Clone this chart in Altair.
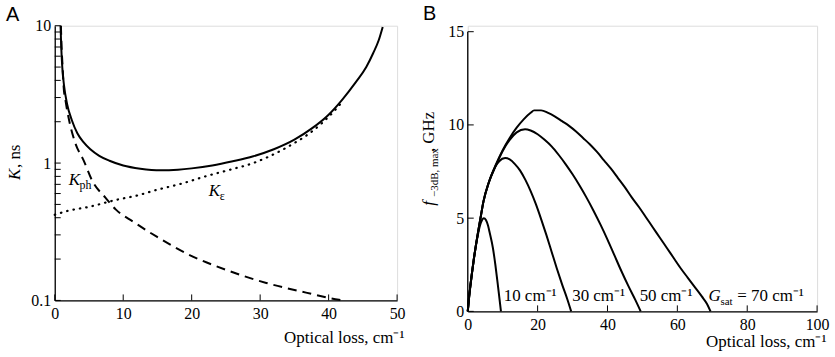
import altair as alt
import pandas as pd

# ---------------- Panel A data (K, ns vs optical loss) ----------------
k_tot_x = [0.85, 0.95, 1.1, 1.35, 1.8, 2.5, 3.3, 4.2, 5.2, 6.5, 8, 10, 12.5, 15.5, 18, 20, 23, 26,
           29, 32, 35, 37.5, 40, 42, 44, 45.5, 46.5, 47.3, 47.9]
k_tot_y = [10, 7, 5, 3.7, 2.7, 2.05, 1.65, 1.42, 1.26, 1.13, 1.04, 0.96, 0.91, 0.885, 0.895, 0.915,
           0.96, 1.03, 1.12, 1.26, 1.48, 1.78, 2.25, 2.9, 3.9, 5.0, 6.3, 7.8, 9.8]

k_ph_x = [0.9, 1.0, 1.15, 1.3, 1.6, 2.1, 3.0, 4.2, 5.5, 7.4, 8.9, 11.5, 14.9, 19.7, 25, 30.9, 36.7, 41.5, 42]
k_ph_y = [10, 7, 5, 3.6, 2.8, 2.05, 1.4, 1.05, 0.74, 0.56, 0.46, 0.373, 0.291, 0.214, 0.167, 0.134,
          0.114, 0.101, 0.1]

k_eps_x = [0, 2, 5, 9, 12, 15, 18.6, 22, 25.8, 29, 31, 33, 35, 37, 39, 41, 42]
k_eps_y = [0.42, 0.45, 0.48, 0.54, 0.58, 0.64, 0.71, 0.8, 0.9, 1.0, 1.1, 1.23, 1.4, 1.62, 1.95, 2.45, 2.8]

a_x_ticks = [0, 10, 20, 30, 40, 50]
a_y_labels = [0.1, 1, 10]
a_y_ticks = [0.1, 0.2, 0.3, 0.4, 0.5, 0.6, 0.7, 0.8, 0.9, 1, 2, 3, 4, 5, 6, 7, 8, 9, 10]

# ---------------- Panel B data (f-3dB,max vs optical loss) ----------------
g10_x = [0, 0.4, 0.8, 1.2, 1.7, 2.3, 2.9, 3.5, 4.1, 4.6, 5.2, 5.8, 6.3, 7.2, 7.9, 8.5, 9.0, 9.5]
g10_y = [0, 0.8, 1.45, 2.05, 2.75, 3.5, 4.1, 4.6, 4.9, 5.0, 4.9, 4.6, 4.2, 3.4, 2.5, 1.6, 0.8, 0]

g30_x = [0, 0.4, 0.8, 1.2, 1.7, 2.3, 2.9, 3.6, 4.5, 6, 7, 8, 9, 10.7, 12, 13.5, 15, 16.5, 18, 19.5,
         21, 22.5, 24, 25.5, 27, 28.5, 29.6]
g30_y = [0, 0.8, 1.45, 2.05, 2.75, 3.5, 4.2, 4.95, 5.9, 6.9, 7.4, 7.8, 8.05, 8.22, 8.15, 7.9, 7.55,
         7.05, 6.45, 5.75, 4.95, 4.1, 3.2, 2.3, 1.45, 0.65, 0]

g50_x = [0, 0.4, 0.8, 1.2, 1.7, 2.3, 2.9, 3.6, 4.5, 6, 8, 10, 12, 14, 16.4, 18, 20, 22, 24, 26, 28,
         30, 32, 34, 36, 38, 40, 42, 44, 46, 48, 49.5]
g50_y = [0, 0.8, 1.45, 2.05, 2.75, 3.5, 4.2, 4.95, 5.9, 6.9, 7.8, 8.6, 9.2, 9.6, 9.77, 9.7, 9.5, 9.2,
         8.85, 8.4, 7.9, 7.35, 6.75, 6.1, 5.4, 4.65, 3.85, 3.0, 2.15, 1.35, 0.6, 0]

g70_x = [0, 0.4, 0.8, 1.2, 1.7, 2.3, 2.9, 3.6, 4.5, 6, 8, 10, 12, 14, 16, 18, 19, 21, 23, 25, 27, 29,
         31, 33, 35, 37, 39, 41, 43, 45, 47, 49, 51, 53, 55, 57, 59, 61, 63, 65, 67, 68.5, 69.5]
g70_y = [0, 0.8, 1.45, 2.05, 2.75, 3.5, 4.2, 4.95, 5.9, 6.9, 7.85, 8.65, 9.3, 9.85, 10.3, 10.65,
         10.78, 10.78, 10.65, 10.45, 10.2, 9.95, 9.65, 9.3, 8.95, 8.55, 8.1, 7.65, 7.15, 6.65, 6.1,
         5.6, 5.05, 4.5, 3.95, 3.4, 2.85, 2.3, 1.8, 1.3, 0.8, 0.4, 0]

b_x_ticks = [0, 20, 40, 60, 80, 100]
b_y_ticks = [0, 5, 10, 15]

b_labels = ["10 cm⁻¹", "30 cm⁻¹", "50 cm⁻¹"]
b_label_x = [10.3, 29.9, 49.2]
b_label_y = [0.55, 0.55, 0.55]
g_label_x = [68.9]
g_label_y = [0.55]

SERIF = "Liberation Serif"
SANS = "Liberation Sans"
WA, HA = 344, 276
WB, HB_AX = 351, 281           # B axis height (0..15)
HB = 287                        # B plot area, 6px taller so its 15 sits lower than A's top
B_TOP = 15 * HB / HB_AX


def df(xs, ys):
    return pd.DataFrame({"x": xs, "y": ys})


one = pd.DataFrame({"a": [0]})

common_axis = dict(ticks=False, grid=False, labelFont=SERIF, labelFontSize=16, labelColor="black",
                   labelFlush=False, domainColor="black", domainWidth=1.3)
title_style = dict(titleFont=SERIF, titleFontSize=17, titleFontWeight="normal", titleColor="black",
                   titleAlign="right", titleAnchor="end", titleBaseline="alphabetic")

# ---------- Panel A ----------
xA = alt.X("x:Q", scale=alt.Scale(domain=[0, 50], nice=False, zero=False),
           axis=alt.Axis(values=a_x_ticks, format="d", labelPadding=5,
                         title="Optical loss, cm⁻¹", titleX=WA + 7, titleY=42,
                         **common_axis, **title_style))
yA = alt.Y("y:Q", scale=alt.Scale(type="log", domain=[0.1, 10], nice=False),
           axis=alt.Axis(values=a_y_labels, format="~g", labelPadding=4, title=None, **common_axis))

solidA = alt.Chart(df(k_tot_x, k_tot_y)).mark_line(color="black", strokeWidth=2, interpolate="monotone").encode(x=xA, y=yA)
dashA = alt.Chart(df(k_ph_x, k_ph_y)).mark_line(color="black", strokeWidth=2, strokeDash=[9, 6],
                                                interpolate="monotone").encode(x=xA, y=yA)
dotA = alt.Chart(df(k_eps_x, k_eps_y)).mark_line(color="black", strokeWidth=2.2, strokeDash=[0.5, 6],
                                                 strokeCap="round", interpolate="monotone").encode(x=xA, y=yA)

xtA = alt.Chart(pd.DataFrame({"x": a_x_ticks})).mark_rule(color="black", strokeWidth=1).encode(
    x=xA, y=alt.value(HA), y2=alt.value(HA - 6))
ytA = alt.Chart(pd.DataFrame({"y": a_y_ticks})).mark_rule(color="black", strokeWidth=1).encode(
    y=yA, x=alt.value(0), x2=alt.value(6))

kph_K = alt.Chart(df([2.03], [0.69])).mark_text(text="K", font=SERIF, fontSize=17, fontStyle="italic",
                                                  align="left", baseline="alphabetic", color="black").encode(x=xA, y=yA)
kph_s = alt.Chart(df([2.03], [0.69])).mark_text(text="ph", font=SERIF, fontSize=12, align="left",
                                                  baseline="alphabetic", dx=11, dy=4, color="black").encode(x=xA, y=yA)
keps_K = alt.Chart(df([22.5], [0.58])).mark_text(text="K", font=SERIF, fontSize=17, fontStyle="italic",
                                                   align="left", baseline="alphabetic", color="black").encode(x=xA, y=yA)
keps_s = alt.Chart(df([22.5], [0.58])).mark_text(text="ε", font=SERIF, fontSize=12, align="left",
                                                   baseline="alphabetic", dx=11, dy=4, color="black").encode(x=xA, y=yA)

letterA = alt.Chart(one).mark_text(text="A", font=SANS, fontSize=20, align="left", baseline="alphabetic",
                                   color="black").encode(x=alt.value(-49), y=alt.value(-5))
ytitleA1 = alt.Chart(one).mark_text(text="K", font=SERIF, fontSize=17, fontStyle="italic", angle=270,
                                    align="left", baseline="alphabetic", color="black").encode(
    x=alt.value(-35), y=alt.value(155))
ytitleA2 = alt.Chart(one).mark_text(text=", ns", font=SERIF, fontSize=17, angle=270, align="left",
                                    baseline="alphabetic", dx=12, color="black").encode(
    x=alt.value(-35), y=alt.value(155))

panelA = alt.layer(xtA, ytA, dotA, dashA, solidA, kph_K, kph_s, keps_K, keps_s,
                   letterA, ytitleA1, ytitleA2).properties(width=WA, height=HA)

# ---------- Panel B ----------
xB = alt.X("x:Q", scale=alt.Scale(domain=[0, 100], nice=False, zero=False),
           axis=alt.Axis(values=b_x_ticks, format="d", labelPadding=5,
                         title="Optical loss, cm⁻¹", titleX=WB + 9, titleY=35,
                         **common_axis, **title_style))
b_axis = dict(common_axis)
b_axis["domain"] = False
yB = alt.Y("y:Q", scale=alt.Scale(domain=[0, B_TOP], nice=False),
           axis=alt.Axis(values=b_y_ticks, format="d", labelPadding=4, title=None, **b_axis))

curves = []
for xs, ys in [(g10_x, g10_y), (g30_x, g30_y), (g50_x, g50_y), (g70_x, g70_y)]:
    curves.append(alt.Chart(df(xs, ys)).mark_line(color="black", strokeWidth=2,
                                                   interpolate="monotone").encode(x=xB, y=yB))

yaxisB = alt.Chart(pd.DataFrame({"y": [b_y_ticks[0]], "y2": [b_y_ticks[-1]]})).mark_rule(
    color="black", strokeWidth=1.3).encode(x=alt.value(0), y=yB, y2="y2:Q")
xtB = alt.Chart(pd.DataFrame({"x": b_x_ticks})).mark_rule(color="black", strokeWidth=1).encode(
    x=xB, y=alt.value(HB), y2=alt.value(HB - 6))
ytB = alt.Chart(pd.DataFrame({"y": b_y_ticks})).mark_rule(color="black", strokeWidth=1).encode(
    y=yB, x=alt.value(0), x2=alt.value(6))

lblB = alt.Chart(pd.DataFrame({"x": b_label_x, "y": b_label_y, "t": b_labels})).mark_text(
    font=SERIF, fontSize=17, align="left", baseline="alphabetic", color="black").encode(
    x=xB, y=yB, text="t:N")
gG = alt.Chart(df(g_label_x, g_label_y)).mark_text(text="G", font=SERIF, fontSize=17, fontStyle="italic",
                                                     align="left", baseline="alphabetic", color="black").encode(x=xB, y=yB)
gS = alt.Chart(df(g_label_x, g_label_y)).mark_text(text="sat", font=SERIF, fontSize=11, align="left",
                                                     baseline="alphabetic", dx=12, dy=4, color="black").encode(x=xB, y=yB)
gR = alt.Chart(df(g_label_x, g_label_y)).mark_text(text="= 70 cm⁻¹", font=SERIF, fontSize=17, align="left",
                                                     baseline="alphabetic", dx=29, color="black").encode(x=xB, y=yB)

letterB = alt.Chart(one).mark_text(text="B", font=SANS, fontSize=20, align="left", baseline="alphabetic",
                                   color="black").encode(x=alt.value(-45), y=alt.value(-6))
ytB1 = alt.Chart(one).mark_text(text="f", font=SERIF, fontSize=17, fontStyle="italic", angle=270,
                                align="left", baseline="alphabetic", color="black").encode(
    x=alt.value(-34), y=alt.value(181))
ytB2 = alt.Chart(one).mark_text(text="−3dB, max", font=SERIF, fontSize=11, angle=270, align="left",
                                baseline="alphabetic", dx=9, dy=4, color="black").encode(
    x=alt.value(-34), y=alt.value(181))
ytB3 = alt.Chart(one).mark_text(text=", GHz", font=SERIF, fontSize=17, angle=270, align="left",
                                baseline="alphabetic", dx=54, color="black").encode(
    x=alt.value(-34), y=alt.value(181))

panelB = alt.layer(yaxisB, xtB, ytB, *curves, lblB, gG, gS, gR, letterB, ytB1, ytB2, ytB3).properties(
    width=WB, height=HB)

chart = alt.hconcat(panelA, panelB, spacing=13).properties(
    padding={"left": 5, "top": 2, "right": 5, "bottom": 5}
).configure_view(stroke=None).configure(background="white").configure_axis(
    labelFont=SERIF, titleFont=SERIF, labelFontSize=16
).configure_text(font=SERIF)

chart.save("out.html", embed_options={"renderer": "svg", "actions": False})
